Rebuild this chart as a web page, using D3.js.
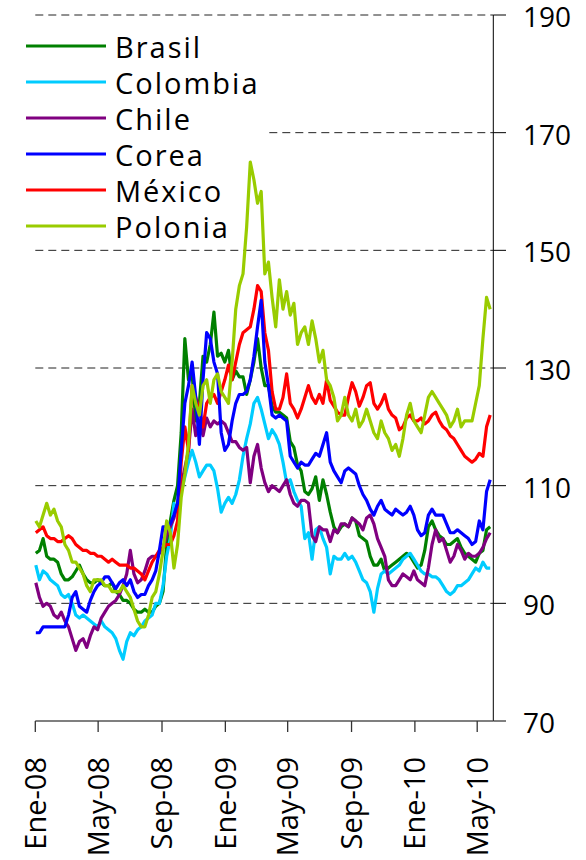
<!DOCTYPE html>
<html>
<head>
<meta charset="utf-8">
<script src="https://cdn.jsdelivr.net/npm/d3@7"></script>
<style>
  html, body { margin: 0; padding: 0; background: #fff; }
  text { font-family: "Open Sans", sans-serif; fill: #000; }
</style>
</head>
<body>
<div id="container"></div>
<script>
// weekly readings, first week starting 2 Jan 2008
const firstDate = new Date(2008, 0, 2)
const countries = ["Brasil", "Colombia", "Chile", "Corea", "México", "Polonia"]
const colors = ["#008000", "#00CCFF", "#800080", "#0000FF", "#FF0000", "#99CC00"]
const yTicks = [70, 90, 110, 130, 150, 170, 190]
const xTickLabels = ["Ene-08", "May-08", "Sep-08", "Ene-09", "May-09", "Sep-09", "Ene-10", "May-10"]
const xTickDates = [[2008,0],[2008,4],[2008,8],[2009,0],[2009,4],[2009,8],[2010,0],[2010,4]]

const brasil = [98.5,99,101,98,97.5,97.5,97,95,94,94,
  94.5,95.5,96.5,95,94,93.5,93.5,94,93.5,93,
  93,93.5,92,91.5,90.5,90.5,90,89,88.5,88.5,
  89,88.5,88.5,89.5,90,92,100,104,107.5,110,
  119,135,128,129,121,124,132,131,134,139.5,
  132,132.5,131,133,128,129.5,128.5,128.5,125.5,128,
  131,135,130,127,127,123.5,122.5,122.5,122,121.5,
  117.5,116.5,113.5,112.5,109,108.5,109.5,111.5,107.5,111,
  108.5,105.5,103,102,103,103.5,103,104.5,104,101.5,
  101,100.5,98,96.5,96.5,97.5,95.5,96,96.5,97,
  97.5,98,98.5,98,97,96,96.5,99,103,104,
  102.5,101.5,101,100,100,100.5,101,99.5,98.5,98,
  97.5,97,98.5,99,102.5,103]

const colombia = [96.5,94,95.5,95,94,93.5,93,91.5,91,91.5,
  90,88,87.5,88,87.5,87,86.5,86,87,86,
  85.5,85,84,82,80.5,83.5,85,84.5,85.5,86,
  87,87.5,88,90,90,93,98,101,107,105.5,
  109,111.5,114,116,114,111.5,112.5,113.5,113.5,112.5,
  109.5,105.5,107,108,107,108.5,111,115,118,120.5,
  124,125,123,120.5,118,119.5,118.5,117,114,110.5,
  111,109,107.5,106.5,101,102,97.5,102.5,103,101,
  99.5,95,98,97.5,97.5,98.5,97.5,98,97,95.5,
  94,93.5,92,88.5,92.5,95,95.5,95,95.5,96,
  96.5,97.5,98,98.5,97.5,96.5,95.5,95,95,94.5,
  94.5,94,93,92,91.5,92,93,93,93.5,94,
  95,96,95.5,97,96,96]

const chile = [93.5,91,89.5,90,89.5,88,87.5,88.5,87,86,
  84,82,83.5,84,82.5,84.5,86,85.5,87.5,88.5,
  89.5,90,90.5,91.5,93,95,99,95,93.5,94,
  95.5,97.5,98,98,98.5,99.5,101.5,103,104.5,107,
  110,113,116,123,118.5,121,118.5,121.5,120,121,
  120.5,121,120.5,119,117.5,117.5,116.5,116,116.5,110.5,
  115,117,113,110.5,109,110,109.5,109,110,111,
  108.5,107,106.5,107.5,107.5,107,101.5,100.5,103,102.5,
  102.5,100.5,102.5,102,103.5,103.5,103,104.5,104,103.5,
  102.5,104.5,105,103.5,101,99.5,98,94,93,93,
  94,95,94.5,94,95.5,94,93.5,93,96,100,
  102.5,100.5,101,99,97,98,100,99,97.5,98.5,
  98,98,98.5,99.5,101,102]

const corea = [85,85,86,86,86,86,86,86,86,88,
  91,92,89.5,89,88.5,90.5,92,93,93.5,94.5,
  94.5,93.5,92.5,93.5,94,93,94,92,91,91.5,
  91.5,93,94,95.5,99,103,103,103.5,105,107,
  116,124,127,131,125,117,128,136,135,131,
  129,119,116,117,121,124,125.5,125.5,126,128,
  132,137,141.5,131,127,122,121.5,122,121.5,121,
  115,114,113,114,113.5,113.5,114.5,115.5,115,117,
  119,114,112.5,111.5,110.5,112.5,113,112.5,112,110,
  108.5,107.5,106,105,106.5,107.5,106,105.5,105,106,
  105.5,105,105.5,106.5,105,102.5,101.5,102,105,106,
  105,105,105,103.5,102,102,102.5,102,101.5,101,
  100,100.5,104,102.5,109,111]

const mexico = [102,102.5,103,101.5,101,101,100.5,100.5,101,101.5,
  101,100,99.5,99,99,98.5,98.5,98,98,97.5,
  97,97.5,97,96.5,96.5,96.5,96,96,95.5,95,
  94,95.5,97,98,99,99.5,100,100,101.5,104,
  114,120,116,127,125,123,120,124,125,125.5,
  124,126,128,130.5,128,131,134,136,136.5,137,
  140,144,143,136,133,126,123,123,125,129,
  124,123,121.5,123,125,127,125,124,125.5,124,
  128,124.5,123.5,122.5,122,122,125,127.5,126,123.5,
  125,127,127.5,124,123,124,125.5,123,122,121.5,
  119.5,120,121.5,122,121,121,121.5,120.5,121,122,
  122.5,121,120,119.5,118.5,118,117,116,115,114.5,
  114,114.5,115.5,115,120,122]

const polonia = [104,103,105,107,105,106,104,103,100,99,
  97,97,96,95,93,92,94,94,94,93,
  93,92,92,92,93,92,91,89,87,86,
  86,88,91,92,95,99,104,102,96,100,
  108,112,117,127,124,122,127,128,124,128,
  129,126,125,124,131,140,144,146,154,165,
  162,158,160,146,148,142,137,145,140,143,
  139,141,134,136,137,134,138,135,131,133,
  128,127,125,121,122,125,122,121,123,120,
  121,123,121,119,118,121,119,118,116,117,
  115,118,122,124,121,120,119,122,125,126,
  125,124,123,122,120,121,123,120,121,121,
  121,124,127,135,142,140]

const seriesValues = [brasil, colombia, chile, corea, mexico, polonia]
const dates = brasil.map((d, i) => d3.timeDay.offset(firstDate, i * 7))

const width = 586
const height = 860

const x = d3.scaleTime()
  .domain([new Date(2008, 0, 1), new Date(2010, 5, 1)])
  .range([35.3, 493.3])

const y = d3.scaleLinear()
  .domain([70, 190])
  .range([721, 15])

const svg = d3.create("svg")
  .attr("width", width)
  .attr("height", height)
  .style("background", "#fff")

// dashed gridlines
svg.append("g")
  .selectAll("line")
  .data(yTicks.filter(d => d > 70))
  .enter()
  .append("line")
  .attr("x1", x.range()[0])
  .attr("x2", x.range()[1])
  .attr("y1", d => y(d))
  .attr("y2", d => y(d))
  .attr("stroke", "#222")
  .attr("stroke-width", 1)
  .attr("stroke-dasharray", "8,5")

// legend box sits over the gridlines
const legend = svg.append("g").attr("id", "legend")
legend.append("rect")
  .attr("x", 20).attr("y", 25)
  .attr("width", 247).attr("height", 220)
  .attr("fill", "#fff")

const rowY = i => 46 + i * 36
legend.selectAll("line")
  .data(countries)
  .enter()
  .append("line")
  .attr("x1", 26).attr("x2", 106)
  .attr("y1", (d, i) => rowY(i))
  .attr("y2", (d, i) => rowY(i))
  .attr("stroke", (d, i) => colors[i])
  .attr("stroke-width", 3)

legend.selectAll("text")
  .data(countries)
  .enter()
  .append("text")
  .attr("x", 115)
  .attr("y", (d, i) => rowY(i) + 12)
  .style("font-size", "29px")
  .style("letter-spacing", "2px")
  .text(d => d)

// series
const line = d3.line()
  .x((d, i) => x(dates[i]))
  .y(d => y(d))

const drawOrder = [0, 1, 2, 4, 3, 5]
svg.append("g")
  .selectAll("path")
  .data(drawOrder)
  .enter()
  .append("path")
  .attr("d", k => line(seriesValues[k]))
  .attr("fill", "none")
  .attr("stroke", k => colors[k])
  .attr("stroke-width", 3.2)
  .attr("stroke-linejoin", "round")

// y axis on the right
const yAxis = svg.append("g")
yAxis.append("line")
  .attr("x1", 493.3).attr("x2", 493.3)
  .attr("y1", y(190)).attr("y2", y(70))
  .attr("stroke", "#000")
yAxis.selectAll(".tick")
  .data(yTicks)
  .enter()
  .append("line")
  .attr("x1", 493.3).attr("x2", 506)
  .attr("y1", d => y(d)).attr("y2", d => y(d))
  .attr("stroke", "#000")
yAxis.selectAll("text")
  .data(yTicks)
  .enter()
  .append("text")
  .attr("x", 523)
  .attr("y", d => y(d))
  .attr("dy", "0.43em")
  .style("font-size", "28px")
  .text(d => d)

// x axis
const xAxis = svg.append("g")
xAxis.append("line")
  .attr("x1", x.range()[0]).attr("x2", 493.3)
  .attr("y1", 721).attr("y2", 721)
  .attr("stroke", "#555")
  .attr("stroke-width", 1.3)
const xTicks = xTickDates.map(d => new Date(d[0], d[1], 1))
xAxis.selectAll(".tick")
  .data(xTicks)
  .enter()
  .append("line")
  .attr("x1", d => x(d)).attr("x2", d => x(d))
  .attr("y1", 721).attr("y2", 732)
  .attr("stroke", "#333")
  .attr("stroke-width", 1.3)
xAxis.selectAll("text")
  .data(xTicks)
  .enter()
  .append("text")
  .attr("transform", d => `translate(${x(d)},757) rotate(-90)`)
  .attr("text-anchor", "end")
  .attr("dy", "0.36em")
  .style("font-size", "29px")
  .text((d, i) => xTickLabels[i])

document.querySelector("#container").appendChild(svg.node())
</script>
</body>
</html>
